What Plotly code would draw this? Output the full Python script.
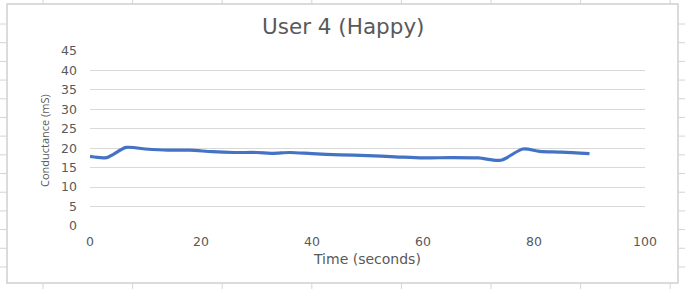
import plotly.graph_objects as go

time_s = [0, 3, 6.5, 10, 14, 18, 22, 26, 30, 33, 36, 40, 45, 50, 55, 60, 65, 70, 74, 78, 81, 85, 90]
conductance = [17.9, 17.6, 20.2, 19.8, 19.5, 19.5, 19.1, 18.9, 18.9, 18.7, 18.9, 18.6, 18.3, 18.1, 17.8, 17.5, 17.6, 17.5, 16.9, 19.8, 19.2, 19.0, 18.6]
y_ticks = [0, 5, 10, 15, 20, 25, 30, 35, 40, 45]
x_ticks = [0, 20, 40, 60, 80, 100]

W, H = 685, 289
FONT = "DejaVu Sans"
TXT = "#595959"
GRID = "#d9d9d9"

fig = go.Figure()
fig.add_trace(go.Scatter(x=time_s, y=conductance, mode="lines",
                         line=dict(color="#4472C4", width=3.2, shape="spline", smoothing=0.8),
                         showlegend=False, hoverinfo="skip"))

def px(x):
    return x / W

def py(y):
    return 1 - y / H

shapes = []
# spreadsheet cell lines outside chart
for k in range(8):
    x = 43 + k * 89.6
    shapes.append(dict(type="line", xref="paper", yref="paper", x0=px(x), x1=px(x), y0=py(0), y1=py(4),
                       line=dict(color="#d4d4d4", width=1)))
    shapes.append(dict(type="line", xref="paper", yref="paper", x0=px(x), x1=px(x), y0=py(283), y1=py(289),
                       line=dict(color="#d4d4d4", width=1)))
for k in range(14):
    y = 24 + k * 18.69
    shapes.append(dict(type="line", xref="paper", yref="paper", x0=px(0), x1=px(7), y0=py(y), y1=py(y),
                       line=dict(color="#d4d4d4", width=1)))
    shapes.append(dict(type="line", xref="paper", yref="paper", x0=px(678), x1=px(685), y0=py(y), y1=py(y),
                       line=dict(color="#d4d4d4", width=1)))
# chart border
shapes.append(dict(type="rect", xref="paper", yref="paper", x0=px(7), x1=px(678), y0=py(283), y1=py(4),
                   line=dict(color="#d0d0d0", width=1.5), fillcolor="rgba(0,0,0,0)", layer="below"))

fig.update_layout(
    width=W, height=H,
    margin=dict(l=0, r=0, t=0, b=0),
    paper_bgcolor="white", plot_bgcolor="white",
    font=dict(family=FONT, color=TXT, size=12),
    shapes=shapes,
    xaxis=dict(domain=[px(90), px(645)], range=[0, 100], tickvals=x_ticks, showgrid=False,
               zeroline=False, showline=False, ticks="", ticklabelstandoff=6,
               tickfont=dict(size=12.5, color=TXT), automargin=False),
    yaxis=dict(domain=[py(226), py(51)], range=[0, 45], tickvals=y_ticks, showgrid=True,
               gridcolor=GRID, gridwidth=1, zeroline=False, showline=False, ticks="",
               ticklabelstandoff=12, tickfont=dict(size=12.5, color=TXT), automargin=False),
    annotations=[
        dict(text="User 4 (Happy)", xref="paper", yref="paper", x=px(343), y=py(26),
             showarrow=False, font=dict(size=21.5, color=TXT), xanchor="center", yanchor="middle"),
        dict(text="Time (seconds)", xref="paper", yref="paper", x=px(367), y=py(259),
             showarrow=False, font=dict(size=14, color=TXT), xanchor="center", yanchor="middle"),
        dict(text="Conductance (mS)", xref="paper", yref="paper", x=px(45), y=py(141),
             showarrow=False, textangle=-90, font=dict(family="Open Sans", size=11, color=TXT),
             xanchor="center", yanchor="middle"),
    ],
)

fig.write_html("out.html", config={"displayModeBar": False},
               post_script="document.body.style.margin='0';")
